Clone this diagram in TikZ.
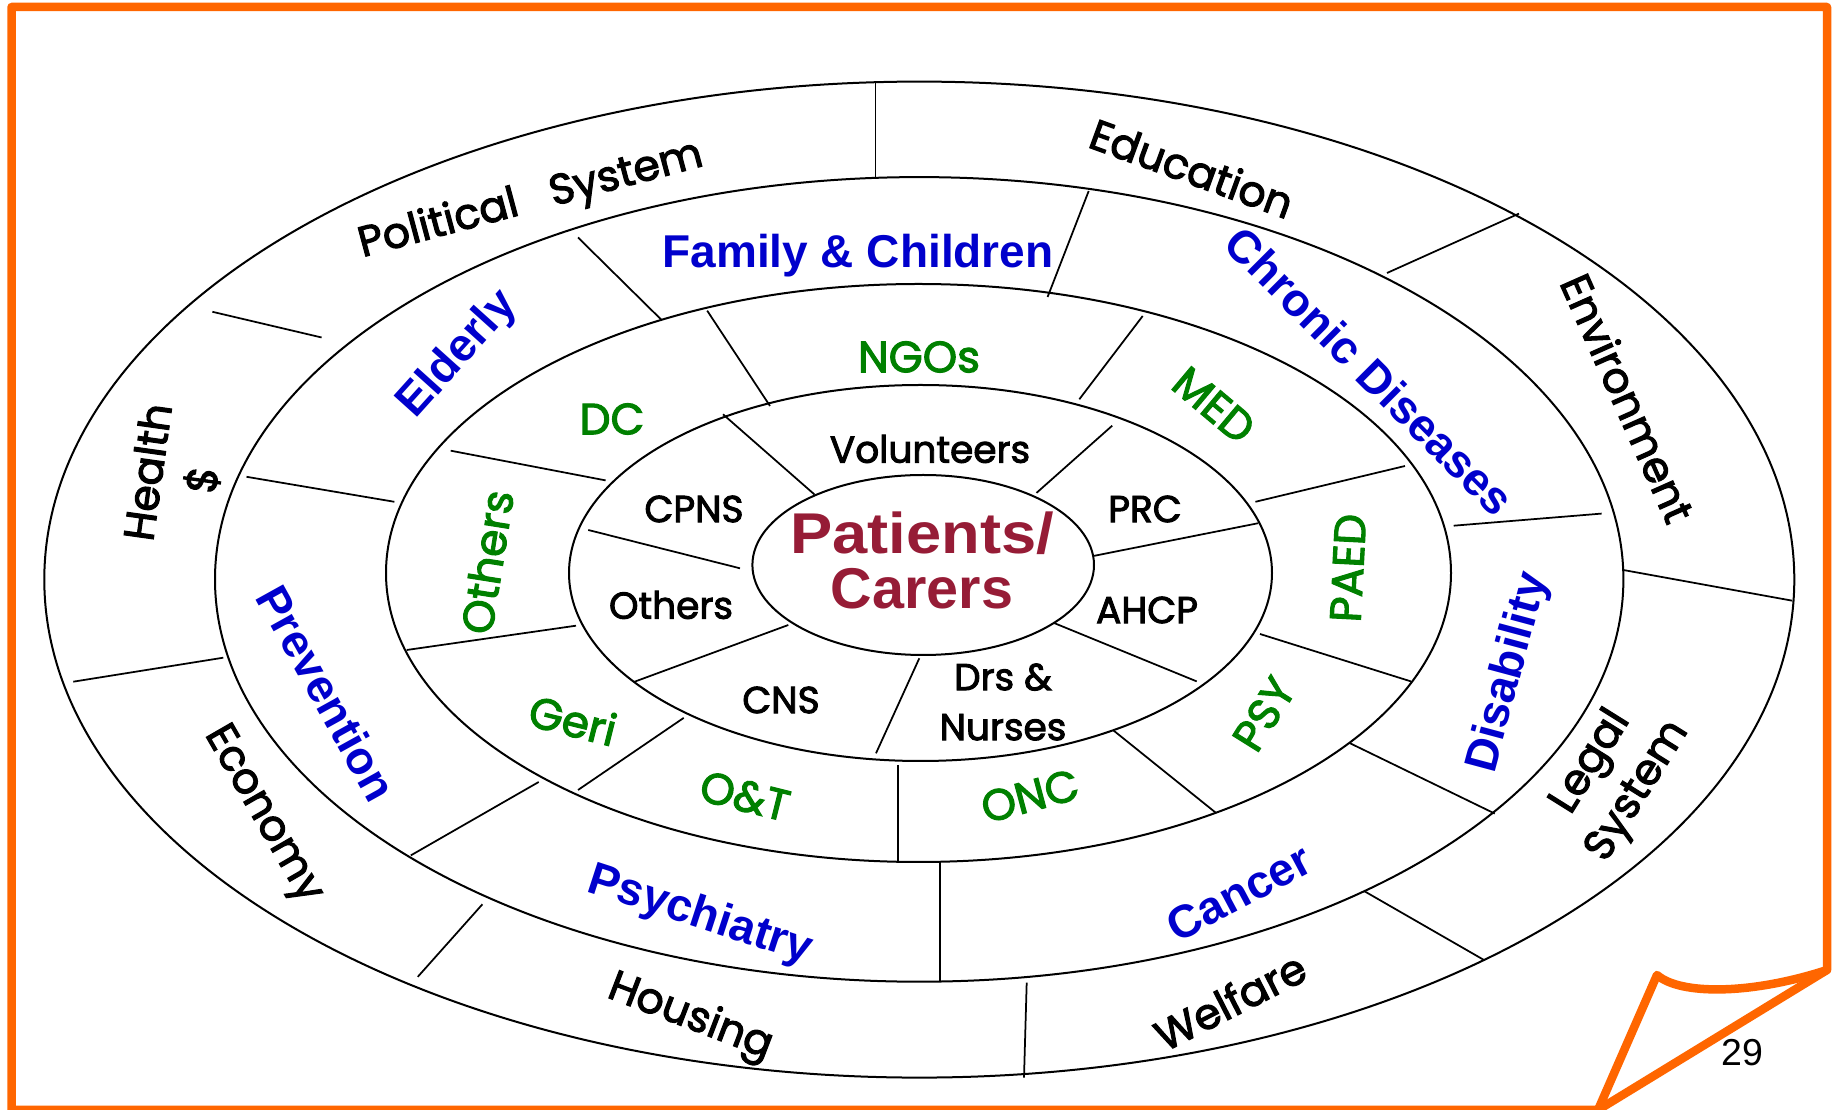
\documentclass[tikz,border=0pt]{standalone}
\usepackage{fontspec}
\setmainfont{Liberation Sans}
\newfontfamily\comicfont{Poppins}[FakeBold=2.5]
\definecolor{ringblue}{RGB}{0,0,204}
\definecolor{ringgreen}{RGB}{0,128,0}
\definecolor{coreRed}{RGB}{150,28,54}
\definecolor{frameOrange}{RGB}{255,102,0}
\begin{document}
\begin{tikzpicture}[x=0.4pt,y=-0.4pt,
  ring/.style={draw=black,line width=0.8pt},
  divider/.style={draw=black,line width=0.7pt},
  frame/.style={draw=frameOrange,line width=3.4pt,line join=round},
  lbl/.style={inner sep=0pt,align=center},
  outertxt/.style={lbl,text=black,font=\comicfont\fontsize{17}{22}\selectfont},
  bluetxt/.style={lbl,text=ringblue,font=\bfseries\fontsize{18.4}{22}\selectfont},
  greentxt/.style={lbl,text=ringgreen,font=\comicfont\fontsize{17.5}{21}\selectfont},
  innertxt/.style={lbl,text=black,font=\comicfont\fontsize{15}{20}\selectfont},
  coretxt/.style={lbl,text=coreRed,font=\bfseries\fontsize{23}{22}\selectfont}]
\useasboundingbox (0,0) rectangle (1835,1110);
\fill[white] (0,0) rectangle (1835,1110);

% frame with page curl
\draw[frame] (1598,1110) -- (11.5,1110) -- (11.5,7) -- (1827,7) -- (1827,970) -- cycle;
\draw[frame] (1598,1110) -- (1657,975) .. controls (1680,995) and (1750,995) .. (1827,970);
\node[lbl,font=\fontsize{15}{18}\selectfont] (pagenum) at (1742,1053) {29};

% rings
\coordinate (c4) at (919.3,579.6);
\coordinate (c3) at (919.2,579.4);
\coordinate (c2) at (918.5,573);
\coordinate (c1) at (920.5,573);
\coordinate (c0) at (923.2,565);
\draw[ring] (c4) ellipse [x radius=875, y radius=498];
\draw[ring] (c3) ellipse [x radius=704.2, y radius=402.3];
\draw[ring] (c2) ellipse [x radius=532.5, y radius=289];
\draw[ring] (c1) ellipse [x radius=351.5, y radius=188];
\draw[ring] (c0) ellipse [x radius=170.8, y radius=90];

% outer ring dividers
\draw[divider] (875.6,81.7) -- (875.6,177.5);
\draw[divider] (1387,273) -- (1519,213.6);
\draw[divider] (1623.3,570) -- (1792.3,600.7);
\draw[divider] (1364,891) -- (1484,960);
\draw[divider] (1026.7,982.7) -- (1024,1077.7);
\draw[divider] (482.4,904.3) -- (417.8,976.8);
\draw[divider] (223.3,657.7) -- (73.3,681.7);
\draw[divider] (212.4,311.8) -- (321.6,337.5);

% third ring dividers
\draw[divider] (578,237.5) -- (662,320.4);
\draw[divider] (1088.7,191) -- (1047.6,297);
\draw[divider] (1453.7,525.7) -- (1601.6,513.6);
\draw[divider] (1349.3,742.9) -- (1494.8,813.6);
\draw[divider] (939.8,862.5) -- (939.8,980.7);
\draw[divider] (538.7,782) -- (410.8,855.4);
\draw[divider] (246.5,476.8) -- (394.4,501.8);

% second ring dividers
\draw[divider] (707.2,310.7) -- (770,406);
\draw[divider] (1142.7,316) -- (1079.3,399.3);
\draw[divider] (1255.4,501.8) -- (1405,466);
\draw[divider] (1260,634) -- (1410.9,681.4);
\draw[divider] (1113.4,730.4) -- (1215.5,812.5);
\draw[divider] (897.7,765) -- (897.7,861.7);
\draw[divider] (683.7,717.9) -- (578,790);
\draw[divider] (576,625.7) -- (406.7,650);
\draw[divider] (450.7,450.7) -- (605.6,480.4);

% first ring dividers
\draw[divider] (723,414.3) -- (814.6,494.6);
\draw[divider] (1112.2,425.7) -- (1036.5,492.9);
\draw[divider] (1093.3,556) -- (1258.3,523.2);
\draw[divider] (1053.3,622.7) -- (1196.7,681.4);
\draw[divider] (919.3,658.3) -- (876,753.3);
\draw[divider] (788.3,625) -- (633.8,682);
\draw[divider] (588.3,530) -- (740,568.3);

% outer ring labels
\node[outertxt,rotate=15] (pol) at (531,201) {Political\hspace{0.8em}System};
\node[outertxt,rotate=-20] (edu) at (1192,168) {Education};
\node[outertxt,rotate=-66] (env) at (1628,398) {Environment};
\node[outertxt,rotate=58] (legal) at (1615,777) {Legal\\System};
\node[outertxt,rotate=27] (welf) at (1230,1001) {Welfare};
\node[outertxt,rotate=-21] (hous) at (690,1018) {Housing};
\node[outertxt,rotate=-60] (econ) at (262,815) {Economy};
\node[outertxt,rotate=82] (health) at (176,476) {Health\\\$};

% third ring labels
\node[bluetxt] (fam) at (858,256) {Family \& Children};
\node[bluetxt,rotate=48] (eld) at (458,355) {Elderly};
\node[bluetxt,rotate=-45] (chr) at (1370,371) {Chronic Diseases};
\node[bluetxt,rotate=75] (dis) at (1509,673) {Disability};
\node[bluetxt,rotate=28] (can) at (1239,893) {Cancer};
\node[bluetxt,rotate=-18] (psych) at (700,916) {Psychiatry};
\node[bluetxt,rotate=-61] (prev) at (327,693) {Prevention};

% second ring labels
\node[greentxt] (ngo) at (919,357) {NGOs};
\node[greentxt] (dc) at (612,419) {DC};
\node[greentxt,rotate=-40] (med) at (1214,405) {MED};
\node[greentxt,rotate=87] (paed) at (1348,568) {PAED};
\node[greentxt,rotate=58] (psyg) at (1264,714) {PSY};
\node[greentxt,rotate=15] (onc) at (1030,796) {ONC};
\node[greentxt,rotate=-14] (ot) at (745,796) {O\&T};
\node[greentxt,rotate=-14] (geri) at (573,720) {Geri};
\node[greentxt,rotate=81] (othg) at (487,562) {Others};

% first ring labels
\node[innertxt] (vol) at (930,449) {Volunteers};
\node[innertxt] (cpns) at (694,509) {CPNS};
\node[innertxt] (prc) at (1145,509) {PRC};
\node[innertxt] (ahcp) at (1147,610) {AHCP};
\node[innertxt] (drs) at (1003,702) {Drs \&\\Nurses};
\node[innertxt] (cns) at (781,700) {CNS};
\node[innertxt] (othb) at (671,605) {Others};

% core
\node[coretxt] (core) at (922,560) {\scalebox{1.1}[1]{Patients/}\\Carers};
\end{tikzpicture}
\end{document}
